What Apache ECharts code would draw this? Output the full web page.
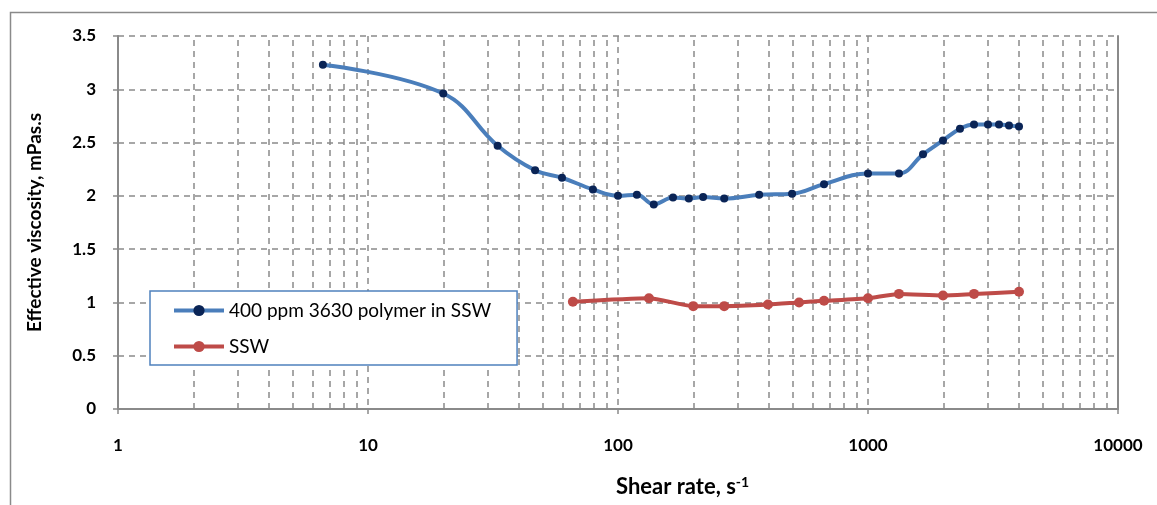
<!DOCTYPE html>
<html>
<head>
<meta charset="utf-8">
<script src="https://cdn.jsdelivr.net/npm/echarts@6/dist/echarts.min.js"></script>
<style>html,body{margin:0;padding:0;background:#fff}#c{width:1157px;height:505px}</style>
</head>
<body>
<div id="c"></div>
<script>
// Data
const polymerShear = [6.6, 20, 33, 46.6, 59.7, 79.4, 100, 119, 139, 166, 192, 219, 266, 367, 497, 667, 1000, 1330, 1660, 1995, 2333, 2655, 3020, 3342, 3664, 4018];
const polymerVisc  = [3.23, 2.96, 2.47, 2.24, 2.17, 2.06, 2.00, 2.01, 1.92, 1.985, 1.975, 1.99, 1.975, 2.01, 2.02, 2.11, 2.21, 2.21, 2.39, 2.52, 2.63, 2.67, 2.67, 2.67, 2.66, 2.65];
const sswShear = [66, 133, 200, 266, 398, 530, 667, 1000, 1330, 1995, 2655, 4018];
const sswVisc  = [1.007, 1.04, 0.965, 0.965, 0.98, 1.0, 1.015, 1.04, 1.08, 1.065, 1.08, 1.10];
const minorGridX = [2,3,4,5,6,7,8,9,20,30,40,50,60,70,80,90,200,300,400,500,600,700,800,900,2000,3000,4000,5000,6000,7000,8000,9000];
const seriesNames = ['400 ppm 3630 polymer in SSW', 'SSW'];

const FONT = 'Lato, "Open Sans", sans-serif';
const GRID_COLOR = '#8a8a8a';

const chart = echarts.init(document.getElementById('c'), null, {renderer: 'canvas'});
chart.setOption({
  animation: false,
  backgroundColor: '#fff',
  textStyle: {fontFamily: FONT},
  graphic: [
    {type: 'rect', left: 8, top: 10, shape: {width: 1300, height: 700}, style: {fill: 'none', stroke: '#8a8a8a', lineWidth: 1.5}, z: -1}
  ],
  title: {
    text: '{a|Shear rate, s}{b|-1}',
    left: 611, top: 470,
    textStyle: {
      rich: {
        a: {fontFamily: FONT, fontWeight: 'bold', fontSize: 22, color: '#000'},
        b: {fontFamily: FONT, fontWeight: 'bold', fontSize: 14, color: '#000', verticalAlign: 'top', padding: [0, 0, 10, 0]}
      }
    }
  },
  grid: {left: 118, right: 39, top: 36, bottom: 96, containLabel: false},
  legend: {
    orient: 'vertical',
    left: 150, top: 291,
    padding: [10, 26, 9, 22],
    itemGap: 17,
    itemWidth: 50, itemHeight: 14,
    backgroundColor: '#fff',
    borderColor: '#4F81BD', borderWidth: 1.5,
    textStyle: {fontFamily: FONT, fontSize: 19, color: '#000'},
    lineStyle: {width: 4},
    data: seriesNames
  },
  xAxis: [{
    type: 'log', logBase: 10, min: 1, max: 10000,
    axisLine: {lineStyle: {color: GRID_COLOR, width: 2}},
    axisTick: {show: true, inside: false, length: 5, lineStyle: {color: GRID_COLOR, width: 1.5}},
    axisLabel: {fontFamily: FONT, fontWeight: 'bold', fontSize: 17, color: '#000', margin: 28,
      formatter: v => String(Math.round(v))},
    splitLine: {show: true, lineStyle: {color: GRID_COLOR, type: [6, 5], width: 1.5}}
  }],
  yAxis: [{
    type: 'value', min: 0, max: 3.5, interval: 0.5,
    name: 'Effective viscosity, mPas.s',
    nameLocation: 'middle', nameGap: 74,
    nameTextStyle: {fontFamily: FONT, fontWeight: 'bold', fontSize: 19, color: '#000'},
    axisLine: {show: true, lineStyle: {color: GRID_COLOR, width: 2}},
    axisTick: {show: true, inside: false, length: 5, lineStyle: {color: GRID_COLOR, width: 1.5}},
    axisLabel: {fontFamily: FONT, fontWeight: 'bold', fontSize: 17, color: '#000', margin: 22},
    splitLine: {show: true, lineStyle: {color: GRID_COLOR, type: [6, 5], width: 1.5}}
  }, {
    type: 'value', min: 0, max: 3.5, interval: 0.5, position: 'right',
    axisLine: {show: true, onZero: false, lineStyle: {color: GRID_COLOR, width: 2}},
    axisTick: {show: false}, axisLabel: {show: false}, splitLine: {show: false}
  }],
  series: [
    {
      name: seriesNames[0],
      type: 'line',
      data: polymerShear.map((x, i) => [x, polymerVisc[i]]),
      smooth: 0.4,
      symbol: 'circle', symbolSize: 8,
      lineStyle: {color: '#4A7EBB', width: 4},
      itemStyle: {color: '#0A2456', borderColor: '#0A2456', borderWidth: 0},
      z: 3,
      markLine: {
        silent: true, symbol: 'none', label: {show: false},
        lineStyle: {color: GRID_COLOR, type: [6, 5], width: 1.5},
        data: minorGridX.map(v => ({xAxis: v})),
        z: 1
      }
    },
    {
      name: seriesNames[1],
      type: 'line',
      data: sswShear.map((x, i) => [x, sswVisc[i]]),
      smooth: 0.2,
      symbol: 'circle', symbolSize: 10,
      lineStyle: {color: '#BE4B48', width: 4},
      itemStyle: {color: '#BE4B48'},
      z: 3
    }
  ]
});
</script>
</body>
</html>
